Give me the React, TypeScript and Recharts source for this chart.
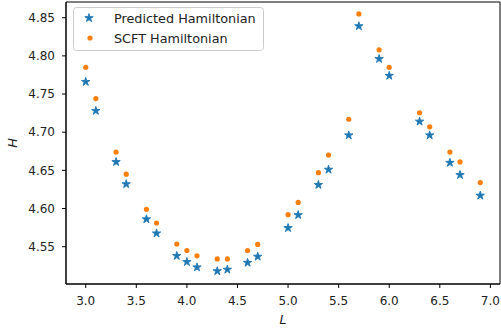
import React from 'react';
import { ScatterChart, Scatter, XAxis, YAxis, ReferenceArea, Legend } from 'recharts';

const Lvals = [3.0, 3.1, 3.3, 3.4, 3.6, 3.7, 3.9, 4.0, 4.1, 4.3, 4.4, 4.6, 4.7, 5.0, 5.1, 5.3, 5.4, 5.6, 5.7, 5.9, 6.0, 6.3, 6.4, 6.6, 6.7, 6.9];
const predicted = [4.766, 4.728, 4.661, 4.632, 4.586, 4.5675, 4.538, 4.530, 4.523, 4.518, 4.520, 4.529, 4.537, 4.5745, 4.5915, 4.631, 4.651, 4.696, 4.839, 4.796, 4.774, 4.714, 4.696, 4.660, 4.644, 4.617];
const scft = [4.785, 4.744, 4.674, 4.645, 4.599, 4.581, 4.5535, 4.545, 4.538, 4.534, 4.534, 4.545, 4.553, 4.592, 4.608, 4.647, 4.670, 4.717, 4.855, 4.808, 4.785, 4.7255, 4.707, 4.674, 4.661, 4.634];
const xTicks = [3.0, 3.5, 4.0, 4.5, 5.0, 5.5, 6.0, 6.5, 7.0];
const yTicks = [4.55, 4.6, 4.65, 4.7, 4.75, 4.8, 4.85];
const seriesNames = ['Predicted Hamiltonian', 'SCFT Hamiltonian'];

const predData = Lvals.map((x, i) => ({ x, y: predicted[i] }));
const scftData = Lvals.map((x, i) => ({ x, y: scft[i] }));

const BLUE = '#1f77b4';
const ORANGE = '#ff7f0e';
const FONT = 'DejaVu Sans';
const FS = 12;
const LFS = 12.8;
const XDOM: [number, number] = [2.805, 7.095];
const YDOM: [number, number] = [4.5011, 4.8706];

function starPath(cx: number, cy: number, r: number) {
  const ri = r * 0.381966;
  let d = '';
  for (let i = 0; i < 10; i++) {
    const a = (-90 + i * 36) * Math.PI / 180;
    const rr = i % 2 === 0 ? r : ri;
    d += (i === 0 ? 'M' : 'L') + (cx + rr * Math.cos(a)).toFixed(2) + ',' + (cy + rr * Math.sin(a)).toFixed(2);
  }
  return d + 'Z';
}

const StarShape = (props: any) => {
  const { cx, cy } = props;
  if (cx == null || cy == null) return null;
  return <path d={starPath(cx, cy, 4.4)} fill={BLUE} stroke={BLUE} strokeWidth={0.9} strokeLinejoin="miter" />;
};

const DotShape = (props: any) => {
  const { cx, cy } = props;
  if (cx == null || cy == null) return null;
  return <circle cx={cx} cy={cy} r={2.6} fill={ORANGE} />;
};

const LegendBox = () => (
  <svg width={191} height={44} style={{ display: 'block' }}>
    <rect x={0.5} y={0.5} width={190} height={43} rx={3} ry={3} fill="rgba(255,255,255,0.8)" stroke="#cccccc" strokeWidth={1} />
    <path d={starPath(16, 11, 4.4)} fill={BLUE} stroke={BLUE} strokeWidth={0.9} />
    <circle cx={17} cy={31} r={2.6} fill={ORANGE} />
    <text x={41} y={11.5} dominantBaseline="central" fontFamily={FONT} fontSize={LFS} fill="#222">{seriesNames[0]}</text>
    <text x={41} y={31.5} dominantBaseline="central" fontFamily={FONT} fontSize={LFS} fill="#222">{seriesNames[1]}</text>
  </svg>
);

const YLabel = (props: any) => {
  const vb = props.viewBox || { x: 0, y: 2, width: 66, height: 282 };
  const x = vb.x + 12.5;
  const y = vb.y + vb.height / 2;
  return (
    <text x={x} y={y} transform={`rotate(-90 ${x} ${y})`} textAnchor="middle" dominantBaseline="central"
      fontFamily={FONT} fontSize={LFS} fontStyle="italic" fill="#222">H</text>
  );
};

const XLabel = (props: any) => {
  const vb = props.viewBox || { x: 66, y: 284, width: 434, height: 51 };
  const x = vb.x + vb.width / 2;
  const y = vb.y + 35.5;
  return (
    <text x={x} y={y} textAnchor="middle" dominantBaseline="central"
      fontFamily={FONT} fontSize={LFS} fontStyle="italic" fill="#222">L</text>
  );
};

export default function App() {
  return (
    <div style={{ position: 'absolute', left: 0, top: 0, width: 501, height: 335, background: '#fff' }}>
      <ScatterChart width={501} height={335} margin={{ top: 2, right: 1, bottom: 0, left: 0 }}>
        <XAxis type="number" dataKey="x" domain={XDOM} ticks={xTicks} allowDataOverflow
          tickFormatter={(v: number) => v.toFixed(1)} height={51} tickSize={4} tickMargin={8}
          stroke="#000" tick={{ fill: '#222', fontSize: FS, fontFamily: FONT }}
          label={{ content: (p: any) => <XLabel {...p} /> }} />
        <YAxis type="number" dataKey="y" domain={YDOM} ticks={yTicks} allowDataOverflow
          tickFormatter={(v: number) => v.toFixed(2)} width={66} tickSize={4} tickMargin={7}
          stroke="#000" tick={{ fill: '#222', fontSize: FS, fontFamily: FONT }}
          label={{ content: (p: any) => <YLabel {...p} /> }} />
        <ReferenceArea x1={XDOM[0]} x2={XDOM[1]} y1={YDOM[0]} y2={YDOM[1]} fill="none" stroke="#000" strokeWidth={1} ifOverflow="visible" />
        <Scatter name={seriesNames[0]} data={predData} shape={StarShape} isAnimationActive={false} />
        <Scatter name={seriesNames[1]} data={scftData} shape={DotShape} isAnimationActive={false} />
        <Legend layout="horizontal" verticalAlign="middle" align="center" content={() => <LegendBox />}
          wrapperStyle={{ left: 73, top: 7, width: 191, height: 44 }} />
      </ScatterChart>
    </div>
  );
}
